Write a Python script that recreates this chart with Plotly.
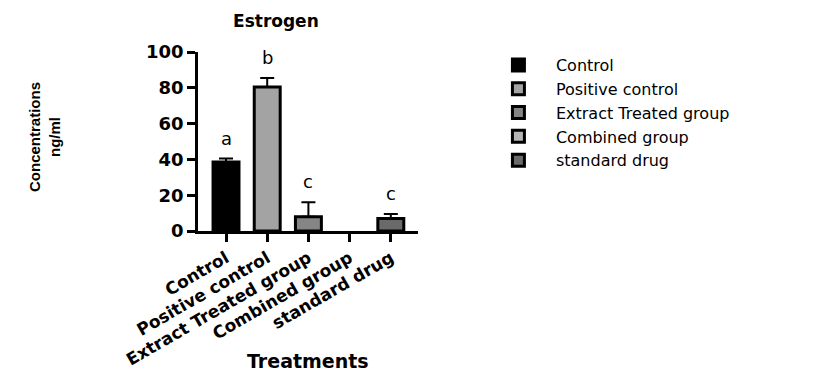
import plotly.graph_objects as go

categories = ["Control", "Positive control", "Extract Treated group", "Combined group", "standard drug"]
values = [38.5, 80.5, 8.0, 0.0, 7.0]
errors = [2.0, 5.0, 8.0, 0.0, 2.5]
letters = ["a", "b", "c", "", "c"]
colors = ["#000000", "#a3a3a3", "#858585", "#b5b5b5", "#6a6a6a"]

FONT = "DejaVu Sans, Liberation Sans, Arial"

fig = go.Figure()
for cat, v, e, c in zip(categories, values, errors, colors):
    fig.add_trace(go.Bar(
        x=[cat], y=[v if v > 0 else None], name=cat, width=0.63,
        marker=dict(color=c, line=dict(color="#000000", width=3)),
        error_y=dict(type="data", array=[e], arrayminus=[0], visible=True,
                     color="#000000", thickness=2, width=7) if e > 0 else None,
    ))

for cat, v, e, l in zip(categories, values, errors, letters):
    if l:
        fig.add_annotation(x=cat, y=v + e, text=l, showarrow=False, yanchor="bottom",
                           yshift=8, font=dict(size=18, color="#000000", family=FONT))

fig.add_annotation(xref="paper", yref="paper", x=-0.788, y=0.526, text="<b>Concentrations<br>ng/ml</b>",
                   textangle=-90, showarrow=False,
                   font=dict(size=15, color="#000000", family="Liberation Sans Narrow, Arial Narrow, Liberation Sans"))
fig.add_annotation(xref="paper", yref="paper", x=0.498, y=-0.80, text="<b>Treatments</b>",
                   showarrow=False, font=dict(size=19, color="#000000", family=FONT))

fig.update_layout(
    width=832, height=385,
    margin=dict(l=190, r=422, t=44, b=162),
    paper_bgcolor="white", plot_bgcolor="white",
    barmode="overlay",
    font=dict(family=FONT, color="#000000"),
    title=dict(text="<b>Estrogen</b>", x=0.322, xanchor="center", y=0.965, yanchor="middle",
               font=dict(size=17, color="#000000", family=FONT)),
    showlegend=True,
    legend=dict(x=1.286, y=1.022, xanchor="left", yanchor="top", font=dict(size=16, color="#000000", family=FONT),
                itemwidth=65, bgcolor="rgba(0,0,0,0)"),
    xaxis=dict(range=[-0.68, 4.66], showline=True, linecolor="#000000", linewidth=2.5,
               ticks="outside", ticklen=8, tickwidth=2.5, tickcolor="#000000", tickangle=-30,
               tickfont=dict(size=17, family=FONT, color="#000000"),
               showgrid=False, zeroline=False, automargin=False),
    yaxis=dict(range=[0, 100], dtick=20, showline=True, linecolor="#000000", linewidth=2.5,
               ticks="outside", ticklen=8, tickwidth=2.5, tickcolor="#000000",
               tickfont=dict(size=18, family=FONT, color="#000000"),
               showgrid=False, zeroline=False, automargin=False),
)
fig.update_xaxes(tickprefix="<b>", ticksuffix="</b>")
fig.update_yaxes(tickprefix="<b>", ticksuffix="</b>")

fig.write_html("out.html")
